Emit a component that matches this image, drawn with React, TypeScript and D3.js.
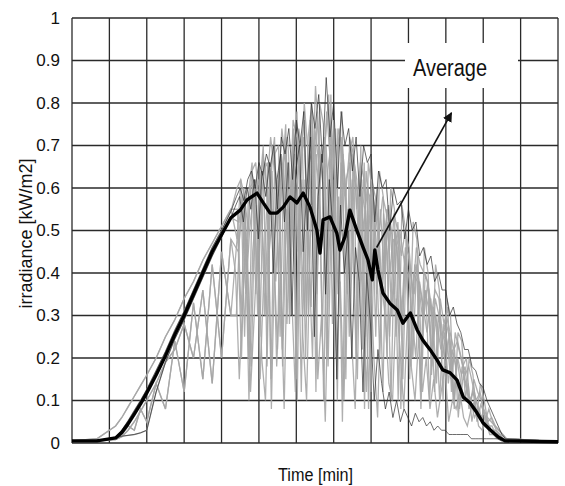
import React from "react"
import * as d3 from "d3"

// axis ticks
const yTicks = [0, 0.1, 0.2, 0.3, 0.4, 0.5, 0.6, 0.7, 0.8, 0.9, 1]
const yTickLabels = ["0", "0.1", "0.2", "0.3", "0.4", "0.5", "0.6", "0.7", "0.8", "0.9", "1"]
const xGridMinutes = [0, 60, 120, 180, 240, 300, 360, 420, 480, 540, 600, 660, 720, 780]

// morning ramps (minutes / kW/m2)
const rampMinutes = [0, 40, 70, 80, 90, 100, 110, 120, 135, 150, 165, 180, 195, 210, 225, 240, 255]
const rampClear = [.005, .005, .014, .03, .052, .076, .1, .126, .17, .215, .265, .31, .36, .41, .46, .5, .545]
const rampEarly = [.005, .01, .04, .06, .085, .11, .135, .16, .2, .25, .29, .34, .38, .43, .47, .51, .55]
const rampLate = [.004, .006, .012, .016, .018, .02, .024, .03, .12, .19, .245, .29, .34, .39, .44, .485, .53]
const rampCloudy = [.004, .006, .01, .02, .04, .03, .08, .05, .14, .08, .24, .12, .33, .15, .42, .2, .48]
const rampCloudy2 = [.004, .005, .008, .015, .03, .05, .075, .1, .14, .19, .22, .28, .2, .36, .14, .45, .3]

// daytime samples, every 6 min from each day's start minute
const cloudStep = 6
const dayStart = [264, 265.5, 267, 263, 266, 264.8, 262.5, 268, 265, 263.8]
const dayTone = ["dark", "gray", "gray", "dark", "gray", "gray", "gray", "gray", "gray", "gray"]

const day1 = [
  .58, .6, .57, .62, .64, .6, .66, .63, .68, .65,
  .7, .55, .72, .68, .74, .62, .76, .7, .78, .5,
  .8, .74, .82, .66, .86, .72, .8, .6, .78, .7,
  .74, .64, .72, .58, .7, .66, .68, .52, .64, .6,
  .62, .5, .6, .56, .57, .48, .55, .5, .52, .44,
  .46, .42, .44, .38, .4, .36, .36, .3, .32, .28,
  .26, .22, .22, .18, .17, .14, .13, .1, .08, .06,
  .04, .02, .01,
]
const day2 = [
  .55, .3, .58, .2, .6, .62, .25, .64, .66, .15,
  .68, .7, .22, .72, .35, .74, .1, .7, .76, .3,
  .78, .12, .8, .75, .4, .82, .2, .7, .78, .15,
  .72, .68, .3, .7, .08, .66, .6, .25, .64, .58,
  .2, .6, .55, .1, .56, .5, .22, .52, .48, .12,
  .46, .4, .18, .42, .36, .1, .34, .3, .08, .26,
  .24, .1, .2, .16, .06, .14, .1, .05, .06, .04,
  .03, .02, .01,
]
const day3 = [
  .45, .56, .35, .5, .58, .4, .62, .3, .55, .64,
  .38, .6, .66, .28, .58, .68, .45, .62, .2, .66,
  .7, .35, .64, .72, .18, .6, .74, .4, .68, .55,
  .3, .66, .5, .62, .25, .58, .6, .35, .55, .4,
  .52, .3, .5, .45, .15, .48, .4, .35, .44, .2,
  .4, .36, .3, .14, .34, .28, .32, .12, .26, .22,
  .18, .2, .08, .15, .12, .1, .05, .08, .05, .03,
  .02, .01, .01,
]
const day4 = [
  .56, .58, .52, .6, .55, .62, .48, .64, .58, .66,
  .4, .62, .68, .52, .66, .3, .64, .7, .45, .6,
  .72, .25, .58, .68, .35, .62, .5, .15, .56, .4,
  .5, .2, .46, .38, .12, .4, .28, .1, .22, .14,
  .08, .12, .06, .1, .05, .08, .06, .04, .07, .05,
  .06, .04, .05, .03, .04, .03, .03, .02, .02, .02,
  .02, .02, .02, .01, .01, .01, .01, .01, .01, .01,
  .01, .005, .005,
]
const day5 = [
  .5, .2, .52, .1, .45, .56, .15, .4, .6, .08,
  .5, .64, .18, .55, .3, .66, .6, .12, .62, .45,
  .2, .68, .55, .1, .64, .7, .3, .58, .05, .62,
  .66, .4, .15, .6, .55, .08, .58, .48, .2, .54,
  .45, .1, .5, .42, .28, .46, .15, .4, .38, .08,
  .36, .32, .2, .3, .1, .28, .24, .15, .22, .06,
  .18, .14, .1, .12, .05, .09, .07, .04, .04, .02,
  .02, .01, .01,
]
const day6 = [
  .6, .62, .58, .5, .64, .66, .55, .68, .6, .72,
  .64, .58, .74, .66, .5, .76, .72, .6, .8, .68,
  .56, .84, .7, .62, .78, .66, .48, .74, .7, .58,
  .68, .72, .55, .66, .62, .45, .62, .58, .5, .58,
  .54, .4, .54, .5, .44, .5, .46, .35, .46, .42,
  .4, .38, .3, .36, .34, .25, .3, .26, .22, .24,
  .2, .16, .18, .14, .1, .12, .08, .06, .05, .04,
  .03, .02, .01,
]
const day7 = [
  .4, .15, .35, .48, .12, .3, .5, .2, .1, .45,
  .55, .18, .4, .08, .52, .35, .12, .58, .25, .1,
  .48, .6, .15, .3, .05, .45, .62, .2, .38, .1,
  .55, .25, .08, .48, .35, .12, .42, .2, .06, .38,
  .3, .14, .1, .34, .22, .08, .3, .18, .1, .25,
  .12, .2, .08, .15, .06, .12, .18, .05, .1, .08,
  .12, .06, .04, .08, .1, .04, .03, .05, .02, .02,
  .01, .01, .01,
]
const day8 = [
  .52, .58, .4, .6, .62, .3, .58, .66, .48, .7,
  .62, .25, .66, .72, .55, .4, .74, .68, .3, .76,
  .6, .78, .45, .7, .82, .28, .66, .74, .5, .35,
  .7, .62, .58, .22, .64, .56, .4, .6, .3, .5,
  .56, .48, .25, .5, .44, .38, .18, .42, .38, .3,
  .36, .1, .32, .28, .22, .26, .14, .22, .18, .08,
  .16, .12, .1, .06, .08, .05, .04, .03, .02, .02,
  .01, .01, .01,
]
const day9 = [
  .48, .62, .25, .58, .66, .35, .6, .7, .18, .64,
  .72, .4, .62, .75, .28, .68, .78, .5, .3, .72,
  .8, .42, .7, .6, .2, .76, .65, .35, .72, .6,
  .25, .68, .62, .4, .66, .3, .6, .55, .45, .12,
  .55, .5, .35, .52, .3, .46, .44, .2, .42, .36,
  .3, .38, .16, .34, .3, .2, .28, .24, .1, .2,
  .16, .18, .08, .12, .1, .06, .07, .05, .03, .03,
  .02, .01, .01,
]
const day10 = [
  .3, .52, .6, .42, .18, .58, .62, .5, .3, .66,
  .45, .22, .68, .6, .4, .7, .15, .64, .72, .55,
  .32, .74, .66, .25, .7, .5, .76, .1, .66, .58,
  .42, .62, .2, .64, .5, .6, .12, .56, .52, .35,
  .5, .25, .48, .46, .08, .44, .4, .3, .2, .38,
  .32, .26, .34, .12, .3, .25, .18, .26, .1, .2,
  .14, .1, .14, .05, .1, .08, .04, .05, .03, .02,
  .02, .01, .01,
]
const dayValues = [day1, day2, day3, day4, day5, day6, day7, day8, day9, day10]
const dayRamps = [rampClear, rampEarly, rampCloudy, rampLate, rampCloudy2, rampClear, rampCloudy, rampLate, rampEarly, rampCloudy2]

// thick average line
const avgMinutes = [
  0, 40, 70, 80, 90, 100, 110, 120, 135, 150, 165, 180, 195, 210, 225, 240, 255,
  270, 281, 297, 307, 318, 329, 339, 350, 361, 371, 382, 393, 398, 403, 414, 425, 430, 438,
  446, 457, 467, 475, 482, 486, 491, 499, 510, 522, 531, 543, 554, 563, 575, 586, 595,
  607, 618, 628, 639, 650, 660, 671, 684, 695, 780,
]
const avgValues = [
  .005, .005, .012, .025, .045, .068, .092, .118, .16, .205, .255, .3, .35, .4, .45, .49, .53,
  .548, .572, .588, .565, .541, .541, .555, .579, .565, .588, .555, .501, .447, .525, .532, .494, .454, .485,
  .548, .501, .461, .431, .384, .454, .407, .353, .329, .313, .282, .306, .266, .242, .219, .195, .172,
  .165, .148, .108, .094, .071, .047, .031, .014, .005, .003,
]

// annotation
const arrowFrom = { minute: 489, value: 0.46 }
const arrowTo = { minute: 609, value: 0.777 }

const width = 565
const height = 486
const margin = { top: 18, right: 7, bottom: 43, left: 72 }
const font = "'Liberation Sans', Arial, Helvetica, sans-serif"

export default function App() {
  const x = d3.scaleLinear().domain([0, 780]).range([margin.left, width - margin.right])
  const y = d3.scaleLinear().domain([0, 1]).range([height - margin.bottom, margin.top])

  const line = d3
    .line<[number, number]>()
    .x((d) => x(d[0]))
    .y((d) => y(d[1]))

  const traces = dayValues.map((vals, k) => {
    const start = dayStart[k]
    const ramp = dayRamps[k]
    const pts: [number, number][] = []
    rampMinutes.forEach((m, i) => {
      if (m < start) pts.push([m, ramp[i]])
    })
    vals.forEach((v, i) => pts.push([start + i * cloudStep, v]))
    pts.push([780, 0.003])
    return { d: line(pts), tone: dayTone[k] }
  })

  const avgPts = avgMinutes.map((m, i) => [m, avgValues[i]] as [number, number])

  const x0 = margin.left
  const x1 = width - margin.right
  const y0 = height - margin.bottom
  const y1 = margin.top

  return (
    <svg
      width={width}
      height={height}
      style={{ position: "absolute", left: 0, top: 0, background: "#fff" }}
      fontFamily={font}
    >
      <defs>
        <marker id="arrowhead" viewBox="0 0 10 10" refX="9" refY="5" markerWidth="6" markerHeight="6" orient="auto">
          <path d="M0,0 L10,5 L0,10 z" fill="#111" />
        </marker>
      </defs>
      <rect x={0} y={0} width={width} height={height} fill="#fff" />

      {/* grid */}
      <g stroke="#2a2a2a" strokeWidth={1.3}>
        {xGridMinutes.map((m) => (
          <line key={"vx" + m} x1={x(m)} x2={x(m)} y1={y1} y2={y0} />
        ))}
        {yTicks.map((t) => (
          <line key={"hy" + t} x1={x0} x2={x1} y1={y(t)} y2={y(t)} />
        ))}
      </g>

      {/* daily traces */}
      {traces
        .filter((t) => t.tone === "gray")
        .map((t, i) => (
          <path key={"g" + i} d={t.d || ""} fill="none" stroke="#a6a6a6" strokeWidth={1.3} strokeOpacity={0.9} />
        ))}
      {traces
        .filter((t) => t.tone === "dark")
        .map((t, i) => (
          <path key={"k" + i} d={t.d || ""} fill="none" stroke="#2e2e2e" strokeWidth={0.7} />
        ))}

      {/* average */}
      <path d={line(avgPts) || ""} fill="none" stroke="#000" strokeWidth={3.4} strokeLinejoin="round" />

      {/* y tick labels */}
      {yTicks.map((t, i) => (
        <text key={"yl" + t} x={60} y={y(t)} textAnchor="end" dominantBaseline="central" fontSize={17} fill="#111">
          {yTickLabels[i]}
        </text>
      ))}

      {/* label box */}
      <rect x={405} y={43} width={113} height={45} fill="#fff" />
      <text x={413} y={76} fontSize={23} textLength={74} lengthAdjust="spacingAndGlyphs" fill="#111">
        Average
      </text>
      <line
        x1={x(arrowFrom.minute)}
        y1={y(arrowFrom.value)}
        x2={x(arrowTo.minute)}
        y2={y(arrowTo.value)}
        stroke="#111"
        strokeWidth={1.6}
        markerEnd="url(#arrowhead)"
      />

      {/* axis titles */}
      <text x={278} y={481} fontSize={18} textLength={75} lengthAdjust="spacingAndGlyphs" fill="#111">
        Time [min]
      </text>
      <text
        transform={`translate(32, ${(y0 + y1) / 2 + 3}) rotate(-90)`}
        textAnchor="middle"
        fontSize={18}
        textLength={150}
        lengthAdjust="spacingAndGlyphs"
        fill="#111"
      >
        irradiance [kW/m2]
      </text>
    </svg>
  )
}
